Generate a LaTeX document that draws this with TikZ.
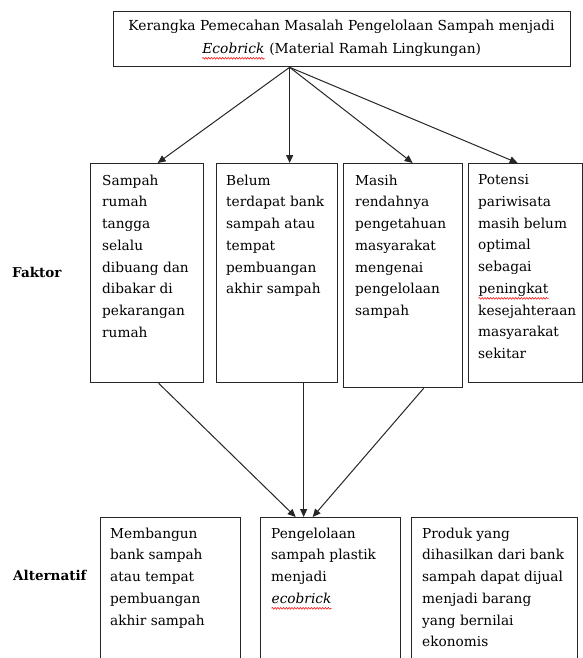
\documentclass[tikz,border=0pt]{standalone}
\usepackage{fontspec}
\setmainfont{DejaVu Serif}
\usetikzlibrary{arrows.meta,decorations.pathmorphing}
\newcommand\spellmark[1]{\tikz[baseline=(sw.base)]{\node[inner sep=0pt] (sw) {#1};\draw[red, line width=0.5pt, decorate, decoration={snake, amplitude=0.9pt, segment length=2.8pt}] ([yshift=-5pt]sw.base west) -- ([yshift=-5pt]sw.base east);}}
\begin{document}
\begin{tikzpicture}[x=1pt,y=-1pt,
  box/.style={draw=black!85, line width=1.3pt, inner sep=0pt, anchor=north west},
  txt/.style={inner sep=0pt, anchor=north west, align=left, font=\fontsize{13.7}{21.7}\selectfont},
  arr/.style={draw=black!85, line width=1pt, -{Triangle[length=8pt,width=7pt]}},
  lbl/.style={inner sep=0pt, anchor=base west, font=\fontsize{13.5}{16}\selectfont\bfseries}]
\useasboundingbox (0,0) rectangle (583,658);
\clip (0,0) rectangle (583,658);
% title
\node[box, minimum width=457, minimum height=55] (top) at (113,11) {};
\node[txt, anchor=north, align=center, font=\fontsize{13.8}{23}\selectfont] (ttl) at (341.5,19.6)
  {Kerangka Pemecahan Masalah Pengelolaan Sampah menjadi\\\spellmark{\emph{Ecobrick}} (Material Ramah Lingkungan)};
% faktor boxes
\node[box, minimum width=113, minimum height=219] (f1) at (90,163) {};
\node[box, minimum width=121, minimum height=219] (f2) at (216,163) {};
\node[box, minimum width=119, minimum height=224] (f3) at (343,163) {};
\node[box, minimum width=114, minimum height=219] (f4) at (468,163) {};
\node[txt] (t1) at (102,174.6) {Sampah\\rumah\\tangga\\selalu\\dibuang dan\\dibakar di\\pekarangan\\rumah};
\node[txt] (t2) at (226,174.6) {Belum\\terdapat bank\\sampah atau\\tempat\\pembuangan\\akhir sampah};
\node[txt] (t3) at (355,174.6) {Masih\\rendahnya\\pengetahuan\\masyarakat\\mengenai\\pengelolaan\\sampah};
\node[txt] (t4) at (478,174.6) {Potensi\\pariwisata\\masih belum\\optimal\\sebagai\\\spellmark{peningkat}\\kesejahteraan\\masyarakat\\sekitar};
% alternatif boxes
\node[box, minimum width=140, minimum height=200] (a1) at (100,517) {};
\node[box, minimum width=140, minimum height=200] (a2) at (260,517) {};
\node[box, minimum width=166, minimum height=200] (a3) at (411,517) {};
\node[txt] (ta1) at (110,527.6) {Membangun\\bank sampah\\atau tempat\\pembuangan\\akhir sampah};
\node[txt] (ta2) at (271,527.6) {Pengelolaan\\sampah plastik\\menjadi\\\spellmark{\emph{ecobrick}}};
\node[txt] (ta3) at (422,527.6) {Produk yang\\dihasilkan dari bank\\sampah dapat dijual\\menjadi barang\\yang bernilai\\ekonomis};
% labels
\node[lbl] (lf) at (12,277) {Faktor};
\node[lbl] (la) at (13,580) {Alternatif};
% arrows
\coordinate (o) at ([xshift=-52.5pt]top.south);
\draw[arr] (o) -- ([xshift=10.5pt]f1.north);
\draw[arr] (o) -- ([xshift=12.5pt]f2.north);
\draw[arr] (o) -- ([xshift=9.5pt]f3.north);
\draw[arr] (o) -- ([xshift=-8pt]f4.north);
\draw[arr] ([xshift=11.5pt]f1.south) -- ([xshift=-35pt]a2.north);
\draw[arr] ([xshift=26.5pt]f2.south) -- ([xshift=-27pt]a2.north);
\draw[arr] ([xshift=20.5pt]f3.south) -- ([xshift=-18pt]a2.north);
\end{tikzpicture}
\end{document}
